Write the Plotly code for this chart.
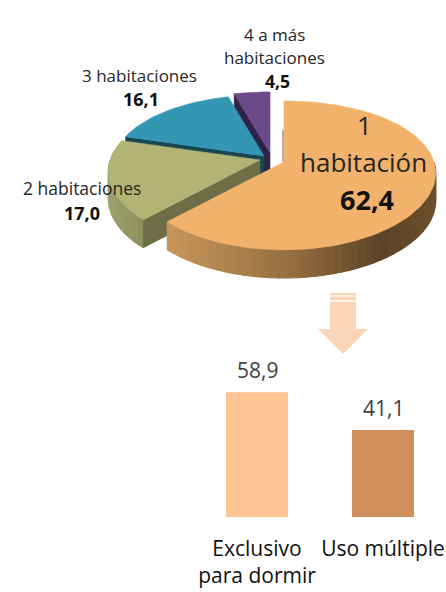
import math
import plotly.graph_objects as go

pie_labels = ["1 habitación", "2 habitaciones", "3 habitaciones", "4 a más habitaciones"]
pie_values = [62.4, 17.0, 16.1, 4.5]
bar_labels = ["Exclusivo<br>para dormir", "Uso múltiple"]
bar_values = [58.9, 41.1]
bar_value_text = ["58,9", "41,1"]

W, H = 446, 592
FONT = "Open Sans"
A, B, KX, KY, D = 150, 74.5, 0.15, 0.18, 28
apexes = [(284, 162), (260, 160), (264, 156), (270, 153)]
top_colors = ["#F2B26B", "#B2B473", "#3396B3", "#6A4A8A"]
cut_colors = ["#8A6A45", "#6C6E47", "#184552", "#2F2444"]
side_stops = [
    [(0, (201, 150, 92)), (0.45, (150, 112, 66)), (0.8, (92, 67, 38)), (1, (110, 80, 45))],
    [(0, (160, 162, 110)), (1, (140, 142, 92))],
    [(0, (30, 80, 95)), (1, (30, 80, 95))],
    [(0, (47, 36, 68)), (1, (47, 36, 68))],
]


def point(apex, deg):
    t = math.radians(deg)
    s, c = math.sin(t), -math.cos(t)
    return apex[0] + A * s * (1 + KX * c), apex[1] + B * c * (1 + KY * c)


def color_at(stops, f):
    for (f0, c0), (f1, c1) in zip(stops, stops[1:]):
        if f <= f1:
            u = (f - f0) / (f1 - f0) if f1 > f0 else 0
            return "rgb(%d,%d,%d)" % tuple(c0[i] + (c1[i] - c0[i]) * u for i in range(3))
    return "rgb(%d,%d,%d)" % stops[-1][1]


def poly(fig, pts, color, lw=0.6):
    fig.add_trace(go.Scatter(
        x=[p[0] for p in pts] + [pts[0][0]], y=[p[1] for p in pts] + [pts[0][1]],
        mode="lines", fill="toself", fillcolor=color,
        line=dict(color=color, width=lw), hoverinfo="skip", showlegend=False,
        xaxis="x", yaxis="y"))


fig = go.Figure()

total = sum(pie_values)
bounds, acc = [], 0.0
for v in pie_values:
    bounds.append((acc, acc + v / total * 360))
    acc += v / total * 360

for i in [3, 2, 1, 0]:
    a0, a1 = bounds[i]
    apex = apexes[i]
    lo, hi = max(a0, 90), min(a1, 270)
    if hi > lo:
        n = max(int((hi - lo) / 3), 2)
        xs = [point(apex, lo + (hi - lo) * k / n)[0] for k in range(n + 1)]
        xmin, xmax = min(xs), max(xs)
        for k in range(n):
            p = point(apex, lo + (hi - lo) * k / n)
            q = point(apex, lo + (hi - lo) * (k + 1) / n)
            f = ((p[0] + q[0]) / 2 - xmin) / (xmax - xmin)
            poly(fig, [p, q, (q[0], q[1] + D), (p[0], p[1] + D)], color_at(side_stops[i], f), 1.2)
    if i > 0:
        e = point(apex, a0)
        poly(fig, [apex, e, (e[0], e[1] + D), (apex[0], apex[1] + D)], cut_colors[i])
    n = max(int((a1 - a0) / 2), 4)
    poly(fig, [apex] + [point(apex, a0 + (a1 - a0) * k / n) for k in range(n + 1)], top_colors[i])

fig.add_trace(go.Bar(
    x=bar_labels, y=bar_values,
    marker=dict(color=["#FFC593", "#D08F5B"], line=dict(width=0)),
    width=0.492, hoverinfo="skip", showlegend=False, xaxis="x2", yaxis="y2"))

for label, value, text in zip(bar_labels, bar_values, bar_value_text):
    fig.add_annotation(x=label, y=value, xref="x2", yref="y2", text=text, showarrow=False,
                       font=dict(family=FONT, size=21, color="#404040"),
                       xanchor="center", yanchor="bottom", yshift=6)


def note(x, y, text, size, bold=False, color="#262626"):
    fig.add_annotation(x=x, y=y, xref="x", yref="y", text=f"<b>{text}</b>" if bold else text,
                       showarrow=False, font=dict(family=FONT, size=size, color=color),
                       xanchor="center", yanchor="middle")


note(274, 34, "4 a más", 17)
note(274, 57, "habitaciones", 17)
note(277, 81, "4,5", 17.5, True, "#111111")
note(139, 75, pie_labels[2], 17)
note(141, 99, "16,1", 18, True, "#111111")
note(82, 188, pie_labels[1], 17.5)
note(82, 213, "17,0", 18, True, "#111111")
note(364, 125, "1", 26)
note(363, 162, "habitación", 26)
note(367, 199, "62,4", 27, True, "#111111")

arrow = "M330 293 L356 293 L356 329 L368 329 L343 354 L318 329 L330 329 Z"
shapes = [
    dict(type="path", path=arrow, xref="x", yref="y", fillcolor="#FAD5B8", line=dict(width=0), layer="above"),
    dict(type="line", x0=330, x1=356, y0=296, y1=296, xref="x", yref="y", line=dict(color="white", width=1), layer="above"),
    dict(type="line", x0=330, x1=356, y0=301, y1=301, xref="x", yref="y", line=dict(color="white", width=1.5), layer="above"),
    dict(type="line", x0=283, x1=283, y0=130, y1=162, xref="x", yref="y", line=dict(color="#9A9080", width=1.5), layer="below"),
]

fig.update_layout(
    width=W, height=H, margin=dict(l=0, r=0, t=0, b=0), autosize=False,
    paper_bgcolor="white", plot_bgcolor="rgba(0,0,0,0)", showlegend=False, shapes=shapes,
    xaxis=dict(range=[0, W], domain=[0, 1], visible=False, fixedrange=True),
    yaxis=dict(range=[H, 0], domain=[0, 1], visible=False, fixedrange=True),
    xaxis2=dict(domain=[194 / W, 1], anchor="y2", type="category", range=[-0.5, 1.5], showgrid=False,
                showline=False, ticks="", ticklabelstandoff=17,
                tickfont=dict(family=FONT, size=21, color="#111111"), fixedrange=True),
    yaxis2=dict(domain=[(H - 517) / H, (H - 390) / H], anchor="x2", range=[0, 60], visible=False,
                showgrid=False, fixedrange=True),
)
fig.write_html("out.html", config={"displayModeBar": False},
               post_script="document.body.style.margin='0';document.body.style.overflow='hidden';")
